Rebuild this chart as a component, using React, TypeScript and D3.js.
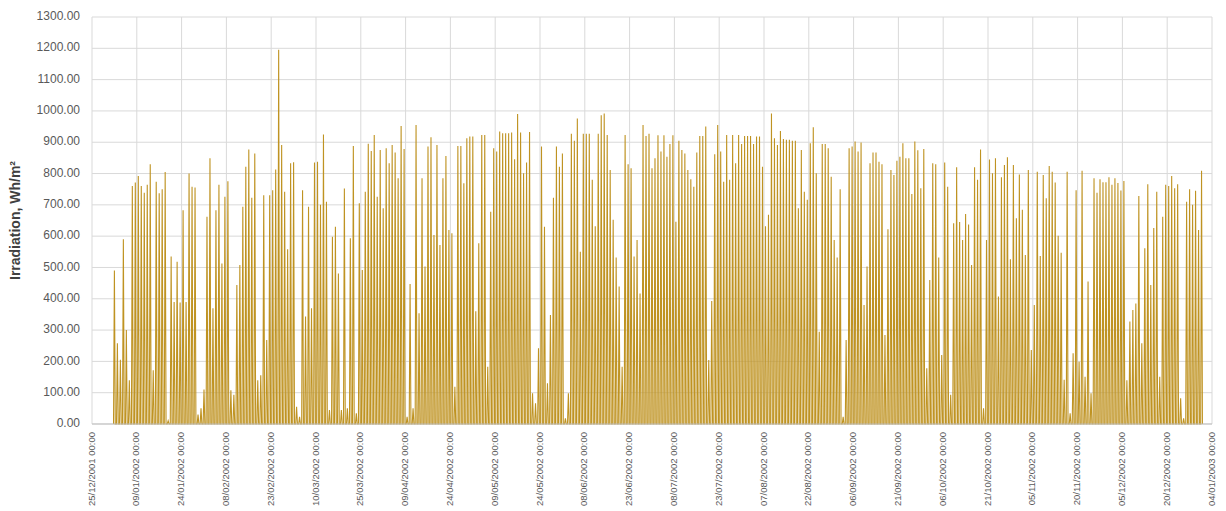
import { useMemo } from "react"
import { scaleLinear, scaleTime, line, timeDay } from "d3"

const W = 1226, H = 511
const ML = 92, MT = 17, MR = 14, MB = 87

// daily peak irradiation, Wh/m², 01/01/2002 .. 31/12/2002
const JAN = [490, 258, 205, 590, 300, 140, 760, 771, 792, 760, 739, 764, 830, 172, 774, 737, 750, 805, 10, 535, 390, 518, 388, 683, 390, 800, 758, 755, 30, 50, 110]
const FEB = [662, 849, 370, 683, 764, 513, 726, 775, 108, 93, 444, 508, 694, 822, 877, 723, 864, 140, 156, 731, 268, 731, 747, 813, 1195, 891, 742, 558]
const MAR = [833, 836, 55, 23, 747, 343, 694, 370, 835, 838, 700, 925, 710, 45, 598, 630, 481, 45, 752, 50, 593, 888, 34, 705, 492, 742, 895, 872, 923, 726, 875]
const APR = [689, 881, 833, 891, 867, 785, 952, 878, 23, 447, 50, 955, 354, 785, 503, 886, 916, 604, 891, 572, 785, 856, 620, 609, 119, 888, 888, 769, 913, 918]
const MAY = [918, 360, 577, 923, 923, 183, 678, 881, 870, 934, 929, 929, 929, 931, 846, 990, 931, 801, 835, 933, 98, 66, 242, 886, 630, 130, 348, 723, 886, 822, 864]
const JUN = [18, 98, 927, 905, 976, 550, 927, 927, 927, 780, 632, 927, 986, 992, 923, 811, 652, 532, 439, 183, 923, 830, 817, 535, 588, 417, 955, 920, 927, 817]
const JUL = [849, 922, 870, 922, 854, 894, 922, 646, 905, 875, 864, 811, 782, 758, 867, 920, 920, 950, 204, 393, 862, 955, 870, 774, 923, 780, 923, 833, 923, 894, 920]
const AUG = [920, 920, 894, 918, 918, 822, 632, 668, 992, 913, 891, 936, 910, 908, 908, 905, 905, 689, 875, 742, 716, 897, 948, 801, 295, 894, 894, 881, 790, 588, 532]
const SEP = [750, 23, 268, 881, 886, 902, 870, 899, 380, 503, 833, 867, 867, 838, 830, 284, 622, 811, 795, 841, 854, 897, 849, 849, 735, 902, 874, 753, 878, 178]
const OCT = [460, 833, 830, 532, 220, 835, 758, 93, 641, 820, 645, 588, 671, 637, 508, 820, 780, 877, 50, 588, 845, 801, 849, 407, 788, 827, 852, 526, 827, 657, 797]
const NOV = [684, 540, 811, 236, 380, 806, 537, 795, 721, 824, 806, 771, 601, 547, 141, 806, 34, 226, 747, 199, 809, 151, 455, 98, 785, 739, 782, 772, 772, 788]
const DEC = [764, 785, 770, 746, 776, 140, 327, 364, 385, 728, 258, 561, 766, 444, 626, 742, 151, 662, 764, 760, 792, 753, 766, 82, 18, 710, 750, 700, 745, 620, 809, 742]

const DAILY_PEAK = [...JAN, ...FEB, ...MAR, ...APR, ...MAY, ...JUN, ...JUL, ...AUG, ...SEP, ...OCT, ...NOV, ...DEC].slice(0, 365)

const X_TICKS = [
  "25/12/2001", "09/01/2002", "24/01/2002", "08/02/2002", "23/02/2002", "10/03/2002",
  "25/03/2002", "09/04/2002", "24/04/2002", "09/05/2002", "24/05/2002", "08/06/2002",
  "23/06/2002", "08/07/2002", "23/07/2002", "07/08/2002", "22/08/2002", "06/09/2002",
  "21/09/2002", "06/10/2002", "21/10/2002", "05/11/2002", "20/11/2002", "05/12/2002",
  "20/12/2002", "04/01/2003",
]
const Y_TICKS = [0, 100, 200, 300, 400, 500, 600, 700, 800, 900, 1000, 1100, 1200, 1300]

const parseDMY = (s: string) => {
  const [d, m, y] = s.split("/").map(Number)
  return new Date(y, m - 1, d)
}

export default function App() {
  const IW = W - ML - MR, IH = H - MT - MB
  const tickDates = X_TICKS.map(parseDMY)

  const x = scaleTime().domain([tickDates[0], tickDates[tickDates.length - 1]]).range([0, IW])
  const y = scaleLinear().domain([0, 1300]).range([IH, 0])

  // night hours sit on zero, the day's peak at noon
  const path = useMemo(() => {
    const start = new Date(2002, 0, 1)
    const pts: [Date, number][] = []
    DAILY_PEAK.forEach((v, i) => {
      const day = timeDay.offset(start, i)
      pts.push([new Date(day.getTime() + 5 * 3600e3), 0])
      pts.push([new Date(day.getTime() + 12 * 3600e3), v])
      pts.push([new Date(day.getTime() + 19 * 3600e3), 0])
    })
    return line<[Date, number]>().x(d => x(d[0])).y(d => y(d[1]))(pts) ?? ""
  }, [])

  return (
    <svg width={W} height={H} style={{ position: "absolute", left: 0, top: 0, background: "#fff" }}
      fontFamily="'Liberation Sans', Arial, sans-serif">
      <g transform={`translate(${ML},${MT})`}>
        {Y_TICKS.map(t => (
          <line key={"h" + t} x1={0} x2={IW} y1={y(t)} y2={y(t)} stroke="#d9d9d9" strokeWidth={1} />
        ))}
        {tickDates.map((d, i) => (
          <line key={"v" + i} x1={x(d)} x2={x(d)} y1={0} y2={IH} stroke="#d9d9d9" strokeWidth={1} />
        ))}

        <path d={path} fill="none" stroke="#BF9322" strokeWidth={1.1} strokeLinejoin="miter" />

        <line x1={0} x2={IW} y1={IH} y2={IH} stroke="#bfbfbf" />

        {Y_TICKS.map(t => (
          <text key={"yl" + t} x={-12} y={y(t)} textAnchor="end" dominantBaseline="middle"
            fill="#595959" fontSize={12}>{t.toFixed(2)}</text>
        ))}

        {tickDates.map((d, i) => (
          <text key={"xl" + i} transform={`translate(${x(d)},${IH + 8}) rotate(-90)`}
            textAnchor="end" dominantBaseline="middle" fill="#595959" fontSize={9.5}>
            {X_TICKS[i]} 00:00
          </text>
        ))}

        <text transform={`translate(${-72},${IH / 2}) rotate(-90)`} textAnchor="middle"
          fill="#404040" fontSize={14} fontWeight="bold">Irradiation, Wh/m²</text>
      </g>
    </svg>
  )
}
